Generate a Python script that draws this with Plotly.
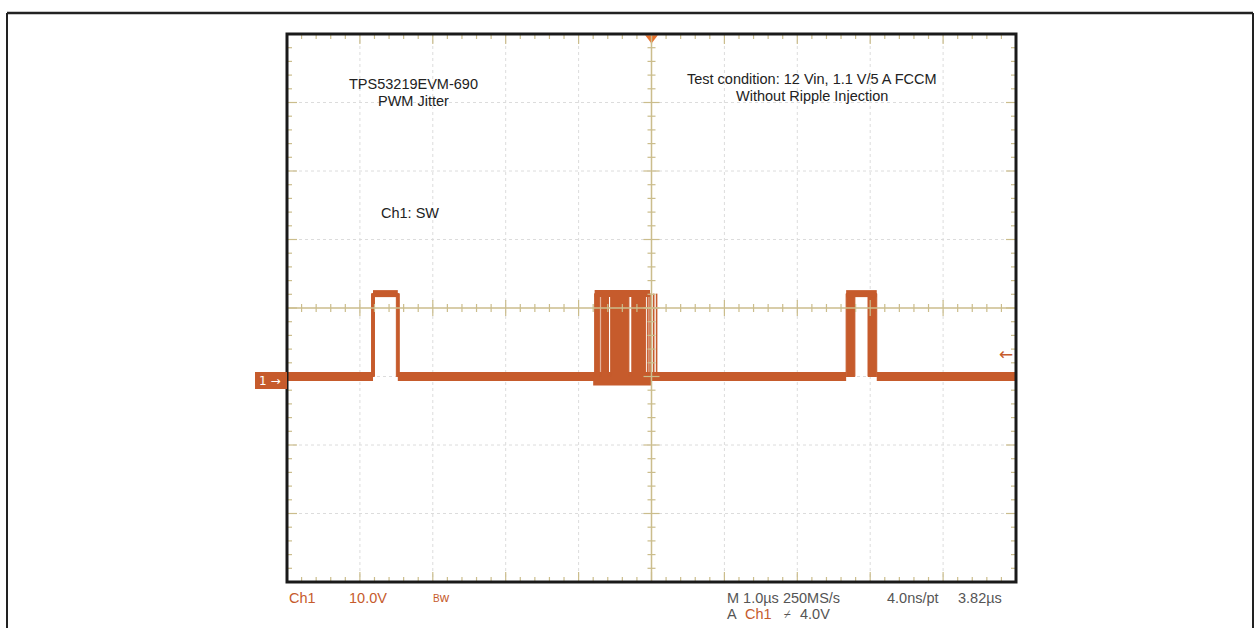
import plotly.graph_objects as go

# ---------------- data (time in µs, 1 µs/div; voltage in V, 10 V/div) ----------------
time_range = [0.0, 10.0]
volt_range = [-30.0, 50.0]
low_level = 0.0
high_level = 12.1

# individual switching pulses: (rise, fall)
pulse_windows = [(1.18, 1.52), (4.22, 4.98), (7.67, 8.09)]
# persistence-filled edge regions (start, end)
edge_spans = [(1.16, 1.20), (1.50, 1.54),
              (4.22, 4.29), (4.31, 4.41), (4.44, 4.69), (4.73, 4.92),
              (7.67, 7.79), (7.97, 8.09)]
# isolated jittered edges
thin_edges = [4.95, 4.98, 5.03, 5.07]
# baseline segments at 0 V
baseline_segments = [(0.0, 1.18), (1.52, 7.67), (8.09, 10.0)]
cluster_undershoot = (4.20, 5.0)

title_left = ["TPS53219EVM-690", "PWM Jitter"]
title_right = ["Test condition: 12 Vin, 1.1 V/5 A FCCM", "Without Ripple Injection"]
signal_label = "Ch1: SW"

TRACE = "#c65b2c"
TAN = "#cbbd8c"
GRID = "#dcdcdc"
GRAYTXT = "#555555"

W, H = 1260, 628
X0, X1, Y0, Y1 = 287, 1016, 34, 582  # scope screen in pixels


def px(x):
    return x / W


def py(y):
    return 1 - y / H


fig = go.Figure()

# baseline
for a, b in baseline_segments:
    fig.add_trace(go.Scatter(x=[a, b], y=[low_level, low_level], mode="lines",
                             line=dict(color=TRACE, width=9), hoverinfo="skip"))
fig.add_trace(go.Scatter(x=list(cluster_undershoot), y=[-0.6, -0.6], mode="lines",
                         line=dict(color=TRACE, width=10), hoverinfo="skip"))
# filled edges
for a, b in edge_spans:
    fig.add_trace(go.Scatter(x=[a, b, b, a, a], y=[low_level, low_level, high_level, high_level, low_level],
                             mode="lines", fill="toself", fillcolor=TRACE,
                             line=dict(color=TRACE, width=1), hoverinfo="skip"))
# thin edges
for t in thin_edges:
    fig.add_trace(go.Scatter(x=[t, t], y=[low_level, high_level], mode="lines",
                             line=dict(color=TRACE, width=1.6), hoverinfo="skip"))
# pulse tops
for a, b in pulse_windows:
    fig.add_trace(go.Scatter(x=[a, b], y=[high_level, high_level], mode="lines",
                             line=dict(color=TRACE, width=7), hoverinfo="skip"))

# trigger marker
fig.add_trace(go.Scatter(x=[5.0], y=[volt_range[1] - 0.6], mode="markers",
                         marker=dict(symbol="triangle-down", size=11, color="#e8722e"),
                         cliponaxis=False, hoverinfo="skip"))

shapes = []
# outer frame
shapes.append(dict(type="line", xref="paper", yref="paper", x0=px(7), x1=px(1253), y0=py(13), y1=py(13),
                   line=dict(color="#222", width=2.5)))
shapes.append(dict(type="line", xref="paper", yref="paper", x0=px(7), x1=px(7), y0=py(13), y1=py(640),
                   line=dict(color="#222", width=2)))
shapes.append(dict(type="line", xref="paper", yref="paper", x0=px(1253), x1=px(1253), y0=py(13), y1=py(640),
                   line=dict(color="#222", width=2)))

dx = (X1 - X0) / 10
dy = (Y1 - Y0) / 8
cx = X0 + 5 * dx
cy = Y0 + 4 * dy

# dotted grid
for i in range(1, 10):
    if i == 5:
        continue
    x = X0 + i * dx
    shapes.append(dict(type="line", xref="paper", yref="paper", x0=px(x), x1=px(x), y0=py(Y0), y1=py(Y1),
                       layer="below", line=dict(color=GRID, width=1, dash="dot")))
for j in range(1, 8):
    if j == 4:
        continue
    y = Y0 + j * dy
    shapes.append(dict(type="line", xref="paper", yref="paper", x0=px(X0), x1=px(X1), y0=py(y), y1=py(y),
                       layer="below", line=dict(color=GRID, width=1, dash="dot")))

# center cross
shapes.append(dict(type="line", xref="paper", yref="paper", x0=px(X0), x1=px(X1), y0=py(cy), y1=py(cy),
                   line=dict(color=TAN, width=1.5)))
shapes.append(dict(type="line", xref="paper", yref="paper", x0=px(cx), x1=px(cx), y0=py(Y0), y1=py(Y1),
                   line=dict(color=TAN, width=1.5)))


def tick(x0, y0, x1, y1, w=1.2, layer="above"):
    shapes.append(dict(type="line", xref="paper", yref="paper", x0=px(x0), x1=px(x1), y0=py(y0), y1=py(y1),
                       layer=layer, line=dict(color=TAN, width=w)))


for k in range(1, 50):
    x = X0 + k * dx / 5
    major = k % 5 == 0
    L = 8 if major else 4
    tick(x, cy - L, x, cy + L)
    tick(x, Y0, x, Y0 + (10 if major else 5), layer="below")
    tick(x, Y1, x, Y1 - (10 if major else 5), layer="below")
for k in range(1, 40):
    y = Y0 + k * dy / 5
    major = k % 5 == 0
    L = 8 if major else 4
    tick(cx - L, y, cx + L, y)
    tick(X0, y, X0 + (10 if major else 5), y, layer="below")
    tick(X1, y, X1 - (10 if major else 5), y, layer="below")

# screen border
shapes.append(dict(type="rect", xref="paper", yref="paper", x0=px(X0), x1=px(X1), y0=py(Y0), y1=py(Y1),
                   line=dict(color="#1a1a1a", width=3)))
# channel marker box
shapes.append(dict(type="rect", xref="paper", yref="paper", x0=px(255), x1=px(287), y0=py(372), y1=py(389),
                   fillcolor=TRACE, line=dict(width=0)))

FONT = "Liberation Sans, Arial, sans-serif"
ann = []


def text(x, y, s, size=14.5, color="#222", xanchor="center", family=FONT):
    ann.append(dict(xref="paper", yref="paper", x=px(x), y=py(y), text=s, showarrow=False,
                    xanchor=xanchor, yanchor="middle", font=dict(family=family, size=size, color=color)))


text(413, 84, title_left[0])
text(413, 101, title_left[1])
text(812, 79, title_right[0])
text(812, 96, title_right[1])
text(410, 213, signal_label)

text(270, 381, "1 →", size=12, color="white", family="DejaVu Sans, sans-serif")
text(1006, 354, "←", size=17, color=TRACE, family="DejaVu Sans, sans-serif")

text(287, 598, "Ch1", color=TRACE, xanchor="left")
text(347, 598, "10.0V", color=TRACE, xanchor="left")
ann.append(dict(xref="paper", yref="paper", x=px(431), y=py(597), text="<span style='font-size:10px'>B</span>w",
                showarrow=False, xanchor="left", yanchor="middle",
                font=dict(family=FONT, size=13, color=TRACE)))
text(725, 598, "M 1.0µs 250MS/s", color=GRAYTXT, xanchor="left")
text(885, 598, "4.0ns/pt", color=GRAYTXT, xanchor="left")
text(956, 598, "3.82µs", color=GRAYTXT, xanchor="left")
text(725, 614, "A", color=GRAYTXT, xanchor="left")
text(743, 614, "Ch1", color=TRACE, xanchor="left")
text(782, 614, "⌿", color=GRAYTXT, xanchor="left", size=11, family="DejaVu Sans, sans-serif")
text(798, 614, "4.0V", color=GRAYTXT, xanchor="left")

fig.update_layout(
    width=W, height=H, margin=dict(l=0, r=0, t=0, b=0),
    paper_bgcolor="white", plot_bgcolor="white", showlegend=False,
    xaxis=dict(domain=[px(X0), px(X1)], range=time_range, visible=False, fixedrange=True),
    yaxis=dict(domain=[py(Y1), py(Y0)], range=volt_range, visible=False, fixedrange=True),
    shapes=shapes, annotations=ann,
)

fig.write_html("out.html", config={"displayModeBar": False},
               post_script="document.body.style.margin='0';document.body.style.overflow='hidden';")
